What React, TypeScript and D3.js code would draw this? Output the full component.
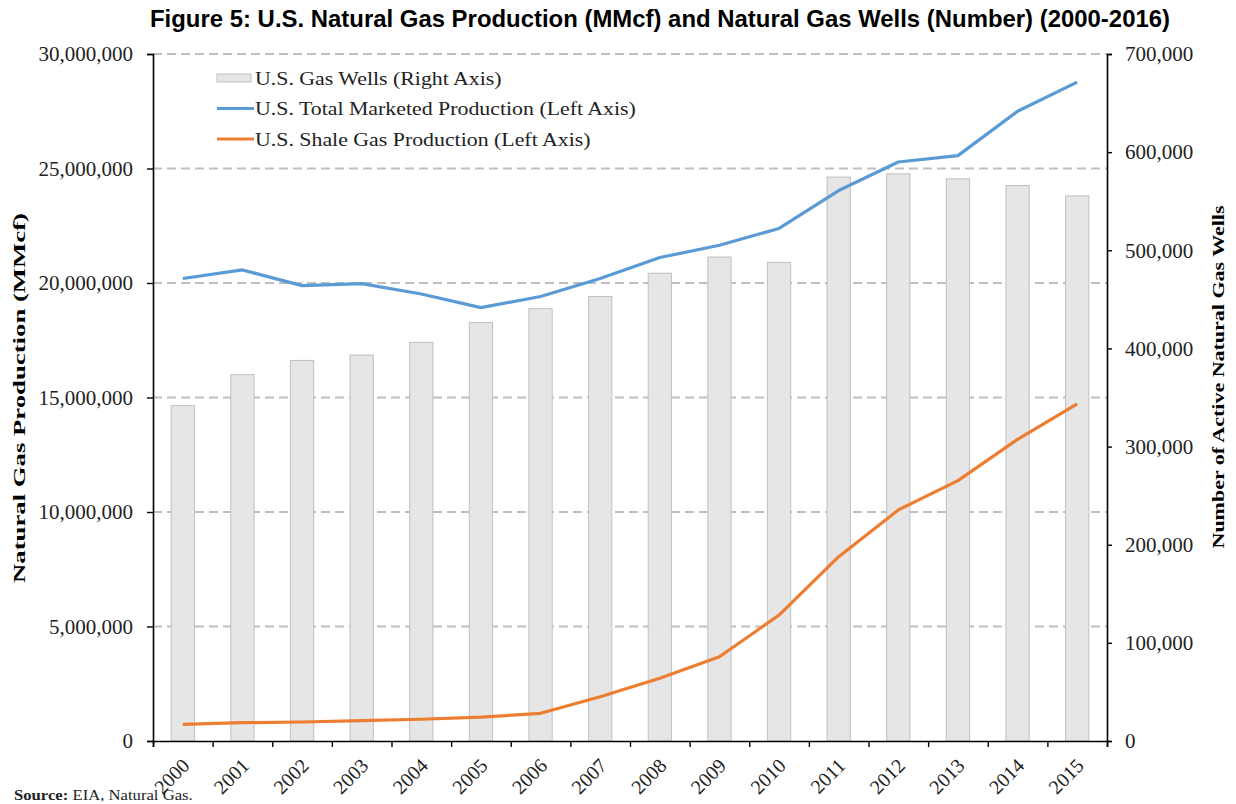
import React, { useRef, useEffect } from 'react';
import * as d3 from 'd3';

const years = ['2000', '2001', '2002', '2003', '2004', '2005', '2006', '2007',
  '2008', '2009', '2010', '2011', '2012', '2013', '2014', '2015'];

// U.S. gas wells (right axis)
const gasWells = [341678, 373304, 387772, 393327, 406147, 426336, 440516, 452945,
  476652, 493100, 487627, 574593, 577916, 572742, 565951, 555364];

// U.S. total marketed production, MMcf (left axis)
const totalProduction = [20197511, 20570295, 19884780, 19974360, 19517491, 18927095, 19409674, 20196346,
  21112053, 21647936, 22381873, 24036352, 25283278, 25562232, 27497754, 28772047];

// U.S. shale gas production, MMcf (left axis)
const shaleProduction = [730000, 800000, 830000, 890000, 950000, 1040000, 1210000, 1930000,
  2740000, 3680000, 5500000, 8050000, 10090000, 11370000, 13170000, 14720000];

const leftTicks = [0, 5000000, 10000000, 15000000, 20000000, 25000000, 30000000];
const rightTicks = [0, 100000, 200000, 300000, 400000, 500000, 600000, 700000];

const legendItems = [
  { label: 'U.S. Gas Wells (Right Axis)', kind: 'bar', color: '#e6e6e6' },
  { label: 'U.S. Total Marketed Production (Left Axis)', kind: 'line', color: '#5b9bd5' },
  { label: 'U.S. Shale Gas Production (Left Axis)', kind: 'line', color: '#ed7d31' },
];

const W = 1236;
const H = 804;
const margin = { top: 54, right: 129, bottom: 63, left: 153 };
const serif = '"Liberation Serif", "Times New Roman", serif';

const App = () => {
  const svgRef = useRef(null);

  useEffect(() => {
    const svg = d3.select(svgRef.current);
    svg.selectAll('*').remove();

    const x0 = margin.left;
    const x1 = W - margin.right;
    const yBottom = H - margin.bottom;

    const x = d3.scaleBand().domain(years).range([x0, x1]).padding(0);
    const yL = d3.scaleLinear().domain([0, 30000000]).range([yBottom, margin.top]);
    const yR = d3.scaleLinear().domain([0, 700000]).range([yBottom, margin.top]);

    // title
    svg.append('text')
      .attr('x', 660)
      .attr('y', 27)
      .attr('text-anchor', 'middle')
      .attr('textLength', 1020)
      .attr('lengthAdjust', 'spacingAndGlyphs')
      .style('font-family', '"Liberation Sans", Arial, sans-serif')
      .style('font-weight', 'bold')
      .style('font-size', '24px')
      .text('Figure 5: U.S. Natural Gas Production (MMcf) and Natural Gas Wells (Number) (2000-2016)');

    // dashed gridlines
    svg.append('g')
      .selectAll('line')
      .data(leftTicks.filter(d => d > 0))
      .join('line')
      .attr('x1', x0)
      .attr('x2', x1)
      .attr('y1', d => yL(d))
      .attr('y2', d => yL(d))
      .attr('stroke', '#bfbfbf')
      .attr('stroke-width', 2)
      .attr('stroke-dasharray', '9,5');

    // bars
    const bw = x.bandwidth() * 0.39;
    svg.append('g')
      .selectAll('rect')
      .data(gasWells)
      .join('rect')
      .attr('x', (d, i) => x(years[i]) + x.bandwidth() / 2 - bw / 2)
      .attr('width', bw)
      .attr('y', d => yR(d))
      .attr('height', d => yBottom - yR(d))
      .attr('fill', '#e6e6e6')
      .attr('stroke', '#bfbfbf')
      .attr('stroke-width', 1);

    const cx = i => x(years[i]) + x.bandwidth() / 2;

    const lineFor = arr => d3.line()
      .x((d, i) => cx(i))
      .y(d => yL(d))(arr);

    svg.append('path')
      .attr('d', lineFor(totalProduction))
      .attr('fill', 'none')
      .attr('stroke', '#5b9bd5')
      .attr('stroke-width', 3.2)
      .attr('stroke-linejoin', 'round');

    svg.append('path')
      .attr('d', lineFor(shaleProduction))
      .attr('fill', 'none')
      .attr('stroke', '#ed7d31')
      .attr('stroke-width', 3.2)
      .attr('stroke-linejoin', 'round');

    // left axis
    const gL = svg.append('g')
      .attr('transform', `translate(${x0},0)`)
      .call(d3.axisLeft(yL).tickValues(leftTicks).tickSize(6).tickPadding(14)
        .tickFormat(d3.format(',')));
    // right axis
    const gR = svg.append('g')
      .attr('transform', `translate(${x1},0)`)
      .call(d3.axisRight(yR).tickValues(rightTicks).tickSize(5).tickPadding(13)
        .tickFormat(d3.format(',')));
    // x axis (ticks at category boundaries)
    const gX = svg.append('g')
      .attr('transform', `translate(0,${yBottom})`)
      .call(d3.axisBottom(d3.scaleLinear().domain([0, years.length]).range([x0, x1]))
        .ticks(years.length).tickSize(6).tickFormat(() => ''));

    [gL, gR, gX].forEach(g => {
      g.select('.domain').attr('stroke', '#000').attr('stroke-width', 1.6);
      g.selectAll('.tick line').attr('stroke', '#000').attr('stroke-width', 1.4);
      g.selectAll('text')
        .style('font-family', serif)
        .style('font-size', '21px')
        .attr('fill', '#222');
    });

    // x labels, rotated
    svg.append('g')
      .selectAll('text')
      .data(years)
      .join('text')
      .attr('transform', (d, i) => `translate(${cx(i) + 3},${yBottom + 21}) rotate(-45)`)
      .attr('text-anchor', 'end')
      .attr('dy', '0.35em')
      .style('font-family', serif)
      .style('font-size', '20px')
      .attr('fill', '#222')
      .text(d => d);

    // axis titles
    svg.append('text')
      .attr('transform', `translate(25,398) rotate(-90)`)
      .attr('text-anchor', 'middle')
      .attr('textLength', 370)
      .attr('lengthAdjust', 'spacingAndGlyphs')
      .style('font-family', serif)
      .style('font-weight', 'bold')
      .style('font-size', '16.5px')
      .text('Natural Gas Production (MMcf)');

    svg.append('text')
      .attr('transform', `translate(1224,377) rotate(-90)`)
      .attr('text-anchor', 'middle')
      .attr('textLength', 343)
      .attr('lengthAdjust', 'spacingAndGlyphs')
      .style('font-family', serif)
      .style('font-weight', 'bold')
      .style('font-size', '17px')
      .text('Number of Active Natural Gas Wells');

    // legend
    const lg = svg.append('g').attr('transform', 'translate(217,78)');
    legendItems.forEach((item, i) => {
      const row = lg.append('g').attr('transform', `translate(0,${i * 30.5})`);
      if (item.kind === 'bar') {
        row.append('rect')
          .attr('x', 0).attr('y', -4).attr('width', 34).attr('height', 8)
          .attr('fill', item.color).attr('stroke', '#bfbfbf').attr('stroke-width', 1);
      } else {
        row.append('line')
          .attr('x1', 0).attr('x2', 37).attr('y1', 0).attr('y2', 0)
          .attr('stroke', item.color).attr('stroke-width', 3.2);
      }
      row.append('text')
        .attr('transform', 'translate(38,0) scale(1.15,1)')
        .attr('dy', '0.35em')
        .style('font-family', serif)
        .style('font-size', '19px')
        .attr('fill', '#222')
        .text(item.label);
    });

    // source note
    const src = svg.append('text')
      .attr('transform', 'translate(14,800) scale(1.15,1)')
      .style('font-family', serif)
      .style('font-size', '14.5px')
      .attr('fill', '#222');
    src.append('tspan').style('font-weight', 'bold').text('Source:');
    src.append('tspan').text(' EIA, Natural Gas.');
  }, []);

  return (
    <svg ref={svgRef} width={W} height={H} style={{ display: 'block', position: 'absolute', left: 0, top: 0 }} />
  );
};

export default App;
